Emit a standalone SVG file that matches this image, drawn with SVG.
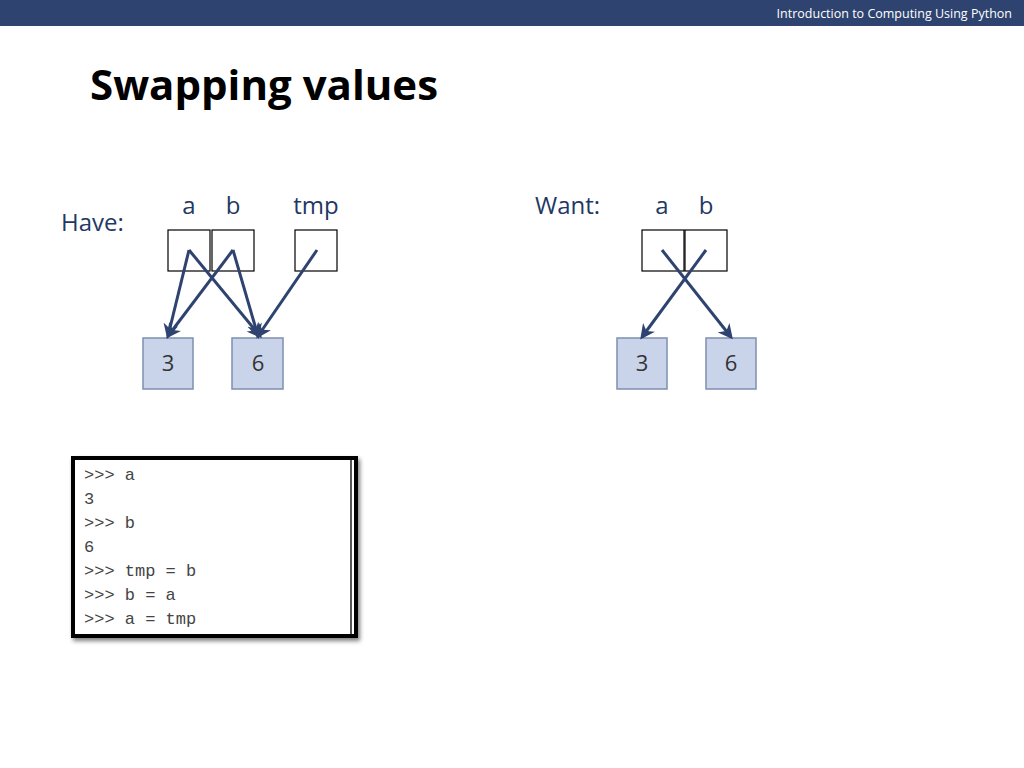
<svg xmlns="http://www.w3.org/2000/svg" width="1024" height="768" viewBox="0 0 1024 768">
<style>
.lbl{font-family:"Open Sans","Liberation Sans",sans-serif;font-size:24px;fill:#1f3864}
.var{fill:#fff;stroke:#000;stroke-width:1.2}
.val{fill:#c9d4ea;stroke:#7f8fb0;stroke-width:1.5}
.num{font-family:"Open Sans","Liberation Sans",sans-serif;font-size:22px;fill:#333;text-anchor:middle}
.code{font-family:"Liberation Mono",monospace;font-size:17px;fill:#444}
.arr{stroke:#2e4370;stroke-width:3;fill:none;marker-end:url(#ah)}
</style>
<defs>
<marker id="ah" viewBox="0 0 10 10" refX="8" refY="5" markerWidth="5" markerHeight="5" orient="auto" markerUnits="strokeWidth"><path d="M0,0 L10,5 L0,10 L3,5 z" fill="#2e4370"/></marker>
<filter id="sh"><feDropShadow dx="2" dy="3" stdDeviation="2" flood-opacity="0.5"/></filter>
</defs>
<rect width="1024" height="768" fill="#fff"/>
<rect width="1024" height="26" fill="#2e4370"/>
<text x="1012" y="18" text-anchor="end" font-family="Open Sans,Liberation Sans,sans-serif" font-size="12.5" fill="#fff">Introduction to Computing Using Python</text>
<text x="90" y="100" font-family="Open Sans,Liberation Sans,sans-serif" font-size="42" font-weight="bold" fill="#000">Swapping values</text>
<g id="have">
<text x="61" y="231" class="lbl">Have:</text>
<text x="189" y="214" class="lbl" text-anchor="middle">a</text>
<text x="233" y="214" class="lbl" text-anchor="middle">b</text>
<text x="316" y="214" class="lbl" text-anchor="middle">tmp</text>
</g>
<g id="have-a"><rect class="var" x="168" y="230" width="42" height="41"/></g>
<g id="have-b"><rect class="var" x="212" y="230" width="42" height="41"/></g>
<g id="have-tmp"><rect class="var" x="295" y="230" width="42" height="41"/></g>
<g id="have-3"><rect class="val" x="143" y="338" width="50" height="51"/><text class="num" x="168" y="371">3</text></g>
<g id="have-6"><rect class="val" x="232" y="338" width="51" height="51"/><text class="num" x="258" y="371">6</text></g>
<g id="want">
<text x="535" y="214" class="lbl">Want:</text>
<text x="662" y="214" class="lbl" text-anchor="middle">a</text>
<text x="706" y="214" class="lbl" text-anchor="middle">b</text>
</g>
<g id="want-a"><rect class="var" x="642" y="230" width="42" height="41"/></g>
<g id="want-b"><rect class="var" x="685" y="230" width="42" height="41"/></g>
<g id="want-3"><rect class="val" x="617" y="338" width="50" height="51"/><text class="num" x="642" y="371">3</text></g>
<g id="want-6"><rect class="val" x="706" y="338" width="50" height="51"/><text class="num" x="731" y="371">6</text></g>
<g id="connectors">
<line class="arr" x1="189" y1="250" x2="168" y2="336"/>
<line class="arr" x1="189" y1="250" x2="260" y2="336"/>
<line class="arr" x1="233" y1="250" x2="168" y2="336"/>
<line class="arr" x1="233" y1="250" x2="258" y2="336"/>
<line class="arr" x1="317" y1="250" x2="258" y2="336"/>
<line class="arr" x1="662" y1="250" x2="731" y2="337"/>
<line class="arr" x1="706" y1="250" x2="642" y2="337"/>
</g>
<g id="console">
<rect x="73" y="458" width="283" height="178" fill="#fff" stroke="#000" stroke-width="4" filter="url(#sh)"/>
<line x1="351" y1="460" x2="351" y2="634" stroke="#555" stroke-width="2"/>
<text class="code"><tspan x="84" y="480">&gt;&gt;&gt; a</tspan><tspan x="84" y="504">3</tspan><tspan x="84" y="528">&gt;&gt;&gt; b</tspan><tspan x="84" y="552">6</tspan><tspan x="84" y="576">&gt;&gt;&gt; tmp = b</tspan><tspan x="84" y="600">&gt;&gt;&gt; b = a</tspan><tspan x="84" y="624">&gt;&gt;&gt; a = tmp</tspan></text>
</g>
</svg>
